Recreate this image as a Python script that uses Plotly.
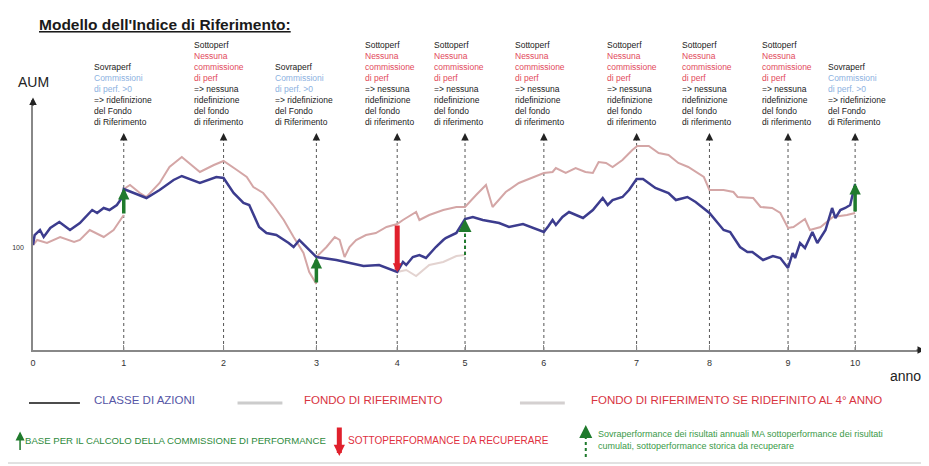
import plotly.graph_objects as go

# ---------------- data ----------------
TICK_POS = [0, 1.104, 2.318, 3.447, 4.430, 5.255, 6.214, 7.342, 8.228, 9.184, 10.0]
TICK_TEXT = ["0", "1", "2", "3", "4", "5", "6", "7", "8", "9", "10"]
Y_TICK_VAL = [100]
Y_TICK_TEXT = ["100"]

EVENT_POS = TICK_POS[1:]
EVENT_KIND = ["sovra", "sotto", "sovra", "sotto", "sotto", "sotto", "sotto", "sotto", "sotto", "sovra"]

classe_x = [0, 0.02, 0.085, 0.13, 0.21, 0.32, 0.45, 0.57, 0.72, 0.78, 0.86, 0.93, 1.02, 1.08, 1.104,
            1.23, 1.38, 1.54, 1.71, 1.81, 2.03, 2.23, 2.318, 2.44, 2.56, 2.63, 2.75, 2.84, 2.96, 3.11,
            3.17, 3.24, 3.33, 3.447, 3.69, 3.85, 4.02, 4.21, 4.43, 4.50, 4.54, 4.62, 4.70, 4.78, 4.90,
            4.99, 5.02, 5.15, 5.255, 5.35, 5.47, 5.67, 5.79, 5.96, 6.08, 6.214, 6.27, 6.32, 6.36, 6.44,
            6.52, 6.69, 6.81, 6.93, 6.99, 7.05, 7.17, 7.25, 7.342, 7.42, 7.57, 7.73, 7.82, 7.96, 8.06,
            8.228, 8.40, 8.48, 8.60, 8.69, 8.75, 8.88, 9.00, 9.09, 9.184, 9.24, 9.27, 9.33, 9.39, 9.48,
            9.54, 9.64, 9.72, 9.76, 9.82, 9.88, 9.94, 10.0]
classe_y = [101.5, 106.5, 109, 105.5, 110, 113, 109, 112.5, 119, 117.5, 120, 119, 121.5, 125, 129.5,
            127.5, 125, 129, 134, 136, 132.5, 135.5, 135, 127.5, 122.5, 121.5, 110.5, 107.5, 106.5, 102.5,
            100.5, 104, 100.5, 95.5, 94, 92.5, 91, 91.5, 88, 93, 91.5, 95.5, 96.5, 95, 100.5,
            104, 105, 107.5, 114.5, 115.5, 114, 112.5, 110.5, 112, 110, 108, 111, 114, 111.5, 115.5,
            118, 115, 119, 125, 121.5, 124, 125.5, 129, 134.5, 134.5, 130, 127.5, 124, 125.5, 123,
            117.5, 109, 108, 100.5, 98, 98, 94, 96, 95, 90, 97.5, 95, 102.5, 100, 108,
            102.5, 109, 120, 115, 119, 120, 121.5, 132]

fondo_x = [0, 0.05, 0.17, 0.33, 0.50, 0.57, 0.69, 0.86, 0.98, 1.06, 1.104, None,
           1.104, 1.18, 1.30, 1.38, 1.54, 1.66, 1.81, 1.95, 2.03, 2.20, 2.318, 2.48, 2.60, 2.68, 2.80,
           2.92, 3.05, 3.17, 3.29, 3.36, 3.447, None,
           3.447, 3.57, 3.67, 3.73, 3.79, 3.85, 3.93, 4.05, 4.17, 4.30, 4.43, 4.50, 4.66, 4.70, 4.82,
           4.99, 5.15, 5.255, 5.39, 5.51, 5.59, 5.75, 5.91, 6.08, 6.214, 6.32, 6.36, 6.48, 6.60, 6.72,
           6.81, 6.88, 6.97, 7.05, 7.17, 7.29, 7.35, 7.49, 7.61, 7.73, 7.85, 7.97, 8.06, 8.16, 8.228,
           8.40, 8.52, 8.57, 8.76, 8.85, 8.99, 9.09, 9.184, 9.25, 9.39, 9.45, 9.58, 9.73, 9.90, 10.0]
fondo_y = [101.5, 104, 102.5, 105.5, 103, 104, 109, 105.5, 109, 114, 116.5, None,
           129.5, 131.5, 127.5, 125.5, 132.5, 140.5, 145.5, 140.5, 138, 141.5, 143.5, 139, 135.5, 130.5, 127.5,
           121.5, 114, 105.5, 97.5, 88, 82, None,
           95.5, 100.5, 105.5, 104, 95.5, 100.5, 104, 106.5, 107.5, 110.5, 112, 114, 118, 114, 116.5,
           119, 120.5, 120.5, 126.5, 131.5, 120.5, 128, 132.5, 135.5, 137.5, 138, 140, 137.5, 140, 138,
           137.5, 143, 142.5, 140.5, 144, 149, 151, 151, 147.5, 146.5, 142.5, 140.5, 138, 135.5, 129,
           129, 128, 125.5, 125, 120.5, 120, 117.5, 110, 110.5, 114.5, 109, 110.5, 115.5, 116.5, 117.5]

ridef_x = [4.43, 4.54, 4.66, 4.82, 4.99, 5.15, 5.255]
ridef_y = [88, 89, 86, 91.5, 93, 96, 96.5]

GREEN_ARROW_X = [1.104, 3.447, 10.0]
GREEN_ARROW_BASE = [116.5, 82, 117.5]
GREEN_ARROW_TOP = [130, 95.5, 132.5]
RED_ARROW_X = [4.43]
RED_ARROW_BASE = [112]
RED_ARROW_TIP = [88]
DASH_ARROW_X = [5.255]
DASH_ARROW_BASE = [96.5]
DASH_ARROW_TOP = [114.5]

EVENT_TIP_Y = 157.5
AXIS_Y0 = 49

# ---------------- style ----------------
BLUE = "#3c3c8e"
PINK = "#d4a6a6"
LIGHT = "#e3d3d0"
GREEN = "#1f7a2c"
RED = "#e0202c"
TXT_RED = "#e24a5c"
TXT_LBLUE = "#8db2df"
FONT = "Liberation Sans, Arial, sans-serif"

fig = go.Figure()
fig.add_trace(go.Scatter(x=fondo_x, y=fondo_y, mode="lines", line=dict(color=PINK, width=2),
                         name="FONDO DI RIFERIMENTO", showlegend=False, connectgaps=False))
fig.add_trace(go.Scatter(x=ridef_x, y=ridef_y, mode="lines", line=dict(color=LIGHT, width=2),
                         name="FONDO DI RIFERIMENTO SE RIDEFINITO AL 4° ANNO", showlegend=False))
fig.add_trace(go.Scatter(x=classe_x, y=classe_y, mode="lines", line=dict(color=BLUE, width=2.5),
                         name="CLASSE DI AZIONI", showlegend=False))

shapes = []
annotations = []

sovra_lines = ["Sovraperf",
               "<span style='color:%s'>Commissioni</span>" % TXT_LBLUE,
               "<span style='color:%s'>di perf. &gt;0</span>" % TXT_LBLUE,
               "=&gt; ridefinizione", "del Fondo", "di Riferimento"]
sotto_lines = ["Sottoperf",
               "<span style='color:%s'>Nessuna</span>" % TXT_RED,
               "<span style='color:%s'>commissione</span>" % TXT_RED,
               "<span style='color:%s'>di perf</span>" % TXT_RED,
               "=&gt; nessuna", "ridefinizione", "del fondo", "di riferimento"]
text_shift = [-32, -32, -43, -34, -33, -31, -32, -29, -28, -29]
for xp, kind, sh in zip(EVENT_POS, EVENT_KIND, text_shift):
    shapes.append(dict(type="line", xref="x", yref="y", x0=xp, x1=xp, y0=AXIS_Y0, y1=EVENT_TIP_Y - 2,
                       line=dict(color="#555555", width=1, dash="dot"), layer="below"))
    annotations.append(dict(x=xp, y=EVENT_TIP_Y, xref="x", yref="y", ax=0, ay=9, showarrow=True,
                            arrowhead=2, arrowsize=1.5, arrowwidth=1, arrowcolor="#222222", text=""))
    lines = sovra_lines if kind == "sovra" else sotto_lines
    annotations.append(dict(x=xp, y=EVENT_TIP_Y, xref="x", yref="y", xanchor="left", yanchor="bottom",
                            xshift=sh, yshift=4, showarrow=False, align="left",
                            text="<br>".join(lines), font=dict(size=8.5, color="#222222", family=FONT)))

for xp, b, t in zip(GREEN_ARROW_X, GREEN_ARROW_BASE, GREEN_ARROW_TOP):
    annotations.append(dict(x=xp, y=t, ax=xp, ay=b, xref="x", yref="y", axref="x", ayref="y",
                            showarrow=True, arrowhead=2, arrowsize=0.65, arrowwidth=3.5,
                            arrowcolor=GREEN, text=""))
for xp, b, t in zip(RED_ARROW_X, RED_ARROW_BASE, RED_ARROW_TIP):
    annotations.append(dict(x=xp, y=t, ax=xp, ay=b, xref="x", yref="y", axref="x", ayref="y",
                            showarrow=True, arrowhead=2, arrowsize=0.35, arrowwidth=5,
                            arrowcolor=RED, text=""))
for xp, b, t in zip(DASH_ARROW_X, DASH_ARROW_BASE, DASH_ARROW_TOP):
    shapes.append(dict(type="line", xref="x", yref="y", x0=xp, x1=xp, y0=b, y1=t - 3,
                       line=dict(color=GREEN, width=2, dash="dot")))
    annotations.append(dict(x=xp, y=t, ax=xp, ay=t - 3, xref="x", yref="y", axref="x", ayref="y",
                            showarrow=True, arrowhead=2, arrowsize=1.3, arrowwidth=2,
                            arrowcolor=GREEN, text=""))

annotations.append(dict(x=0, y=1.01, xref="paper", yref="paper", ax=0, ay=10, showarrow=True,
                        arrowhead=2, arrowsize=1.5, arrowwidth=1, arrowcolor="#222222", text=""))
annotations.append(dict(x=1.0, y=0, xref="paper", yref="paper", ax=-10, ay=0, showarrow=True,
                        arrowhead=2, arrowsize=1.5, arrowwidth=1, arrowcolor="#222222", text=""))

annotations.append(dict(x=0.005, y=1.30, xref="paper", yref="paper", xanchor="left", yanchor="middle",
                        showarrow=False, text="<b><u>Modello dell'Indice di Riferimento:</u></b>",
                        font=dict(size=15.5, color="#1a1a1a", family=FONT)))
annotations.append(dict(x=0.001, y=1.072, xref="paper", yref="paper", xanchor="center", yanchor="middle",
                        showarrow=False, text="AUM", font=dict(size=14, color="#222222", family=FONT)))
annotations.append(dict(x=0.9776, y=-0.104, xref="paper", yref="paper", xanchor="center", yanchor="middle",
                        showarrow=False, text="anno", font=dict(size=14, color="#222222", family=FONT)))

LEG_Y = -0.20
legend_row = [
    (-0.0045, 0.0526, "#111111", 1.5, 0.066, "CLASSE DI AZIONI", "#5656a6"),
    (0.2293, 0.2796, "#cccccc", 3, 0.302, "FONDO DI RIFERIMENTO", "#d8343f"),
    (0.5459, 0.5962, "#d4d0d0", 3, 0.623, "FONDO DI RIFERIMENTO SE RIDEFINITO AL 4° ANNO", "#d8343f"),
]
for x0, x1, lc, lw, tx, txt, tc in legend_row:
    shapes.append(dict(type="line", xref="paper", yref="paper", x0=x0, x1=x1, y0=LEG_Y - 0.012,
                       y1=LEG_Y - 0.012, line=dict(color=lc, width=lw)))
    annotations.append(dict(x=tx, y=LEG_Y, xref="paper", yref="paper", xanchor="left", yanchor="middle",
                            showarrow=False, text=txt, font=dict(size=11.5, color=tc, family=FONT)))

LEG2_Y = -0.364
annotations.append(dict(x=-0.0145, y=-0.326, xref="paper", yref="paper", ax=0, ay=20, showarrow=True,
                        arrowhead=2, arrowsize=1.2, arrowwidth=1.5, arrowcolor=GREEN, text=""))
annotations.append(dict(x=-0.011, y=LEG2_Y, xref="paper", yref="paper", xanchor="left", yanchor="middle",
                        showarrow=False, text="BASE PER IL CALCOLO DELLA COMMISSIONE DI PERFORMANCE",
                        font=dict(size=9.6, color="#2e8a3c", family=FONT)))
annotations.append(dict(x=0.3434, y=-0.424, xref="paper", yref="paper", ax=0, ay=-30, showarrow=True,
                        arrowhead=2, arrowsize=0.45, arrowwidth=5, arrowcolor=RED, text=""))
annotations.append(dict(x=0.351, y=LEG2_Y, xref="paper", yref="paper", xanchor="left", yanchor="middle",
                        showarrow=False, text="SOTTOPERFORMANCE DA RECUPERARE",
                        font=dict(size=10, color="#e03040", family=FONT)))
shapes.append(dict(type="line", xref="paper", yref="paper", x0=0.6197, x1=0.6197, y0=-0.428, y1=-0.315,
                   line=dict(color=GREEN, width=2, dash="dot")))
annotations.append(dict(x=0.6197, y=-0.300, xref="paper", yref="paper", ax=0, ay=8, showarrow=True,
                        arrowhead=2, arrowsize=1.3, arrowwidth=2, arrowcolor=GREEN, text=""))
annotations.append(dict(x=0.631, y=LEG2_Y + 0.004, xref="paper", yref="paper", xanchor="left",
                        yanchor="middle", showarrow=False, align="left",
                        text="Sovraperformance dei risultati annuali MA sottoperformance dei risultati<br>"
                             "cumulati, sottoperformance storica da recuperare",
                        font=dict(size=9, color="#3a9a48", family=FONT)))

# outer frame (right and bottom edges visible)
shapes.append(dict(type="rect", xref="paper", yref="paper", x0=-0.0324, x1=1.0022, y0=-0.452, y1=1.392,
                   line=dict(color="#c4c4c4", width=1), fillcolor="rgba(0,0,0,0)"))

# The page body adds an 8px offset, so the figure is sized / placed to compensate.
fig.update_layout(
    width=921, height=458,
    margin=dict(l=23, r=4, t=92, b=116),
    paper_bgcolor="white", plot_bgcolor="white",
    showlegend=False,
    font=dict(family=FONT, size=8, color="#333333"),
    shapes=shapes, annotations=annotations,
    xaxis=dict(range=[0, 10.85], tickvals=TICK_POS, ticktext=TICK_TEXT, showgrid=False, zeroline=False,
               showline=True, linecolor="#888888", linewidth=1.5, ticks="inside", ticklen=5,
               tickcolor="#888888", tickfont=dict(size=9, color="#333333"), ticklabelstandoff=3,
               fixedrange=True),
    yaxis=dict(range=[AXIS_Y0, 174], tickvals=Y_TICK_VAL, ticktext=Y_TICK_TEXT, showgrid=False,
               zeroline=False, showline=True, linecolor="#888888", linewidth=1.5, ticks="",
               tickfont=dict(size=7, color="#333333"), ticklabelstandoff=6, fixedrange=True),
)

fig.write_html("out.html")
